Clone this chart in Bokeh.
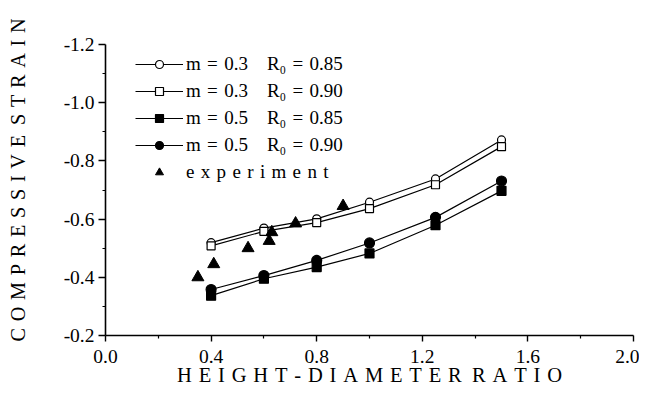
from bokeh.plotting import figure
from bokeh.models import Range1d, FixedTicker, PrintfTickFormatter, Legend, LegendItem
from bokeh.embed import file_html
from bokeh.resources import INLINE

# ---- data ----
x_model = [0.4, 0.6, 0.8, 1.0, 1.25, 1.5]
m03_r085 = [-0.519, -0.569, -0.601, -0.658, -0.738, -0.872]
m03_r090 = [-0.508, -0.558, -0.588, -0.636, -0.718, -0.849]
m05_r085 = [-0.337, -0.395, -0.435, -0.482, -0.579, -0.697]
m05_r090 = [-0.358, -0.406, -0.458, -0.518, -0.606, -0.731]
exp_x = [0.35, 0.41, 0.54, 0.62, 0.63, 0.72, 0.90]
exp_y = [-0.40, -0.445, -0.50, -0.525, -0.555, -0.585, -0.645]

x_ticks = [0.0, 0.4, 0.8, 1.2, 1.6, 2.0]
x_minor = [0.2, 0.6, 1.0, 1.4, 1.8]
y_ticks = [-1.2, -1.0, -0.8, -0.6, -0.4, -0.2]
y_minor = [-1.1, -0.9, -0.7, -0.5, -0.3]

NB = "\u00a0"
SP = "\u2004"   # letter spacing
WG = "\u2002"   # word gap


def spaced(words):
    return WG.join(SP.join(w) for w in words)


def leg(m, r):
    return "m" + SP + "=" + SP + m + "\u2003" + "R\u2080" + SP + "=" + SP + r


labels = [
    leg("0.3", "0.85"),
    leg("0.3", "0.90"),
    leg("0.5", "0.85"),
    leg("0.5", "0.90"),
    SP.join("experiment"),
]
x_title = spaced(["HEIGHT-DIAMETER", "RATIO"])
y_title = NB * 4 + spaced(["COMPRESSIVE", "STRAIN"])

FONT = "Liberation Serif"

p = figure(width=639, height=392, output_backend="svg", toolbar_location=None,
           x_range=Range1d(0.0, 2.0), y_range=Range1d(-0.2, -1.2),
           min_border_left=105, min_border_right=6, min_border_top=44, min_border_bottom=57)
p.outline_line_color = None
p.xgrid.visible = False
p.ygrid.visible = False
p.background_fill_color = "white"
p.border_fill_color = "white"

for ax, ticks, minor in ((p.xaxis[0], x_ticks, x_minor), (p.yaxis[0], y_ticks, y_minor)):
    ax.ticker = FixedTicker(ticks=ticks, minor_ticks=minor)
    ax.formatter = PrintfTickFormatter(format="%.1f")
    ax.axis_line_width = 1.6
    ax.axis_line_color = "black"
    ax.major_tick_line_color = "black"
    ax.minor_tick_line_color = "black"
    ax.major_tick_line_width = 1.4
    ax.minor_tick_line_width = 1.2
    ax.major_tick_in = 0
    ax.minor_tick_in = 0
    ax.major_label_text_font = FONT
    ax.major_label_text_font_size = "19.5px"
    ax.major_label_text_color = "black"
    ax.axis_label_text_font = FONT
    ax.axis_label_text_font_style = "normal"
    ax.axis_label_text_color = "black"

p.xaxis.axis_label_text_font_size = "20.5px"
p.yaxis.axis_label_text_font_size = "20.2px"
p.xaxis.major_tick_out = 6
p.xaxis.minor_tick_out = 3
p.yaxis.major_tick_out = 7
p.yaxis.minor_tick_out = 3
p.xaxis.major_label_standoff = 8
p.yaxis.major_label_standoff = 4
p.xaxis.axis_label = x_title
p.yaxis.axis_label = y_title
p.xaxis.axis_label_standoff = -2
p.yaxis.axis_label_standoff = 32

series = [
    (m03_r085, "circle", 8, "white"),
    (m03_r090, "square", 8, "white"),
    (m05_r085, "square", 9, "black"),
    (m05_r090, "circle", 10, "black"),
]
items = []
for (ys, marker, size, fill), lab in zip(series, labels[:4]):
    ln = p.line(x_model, ys, line_color="black", line_width=1.2)
    sc = p.scatter(x_model, ys, marker=marker, size=size, fill_color=fill,
                   line_color="black", line_width=1.2)
    items.append(LegendItem(label=lab, renderers=[ln, sc]))

tri = p.scatter(exp_x, exp_y, marker="triangle", size=12, fill_color="black", line_color="black")
items.append(LegendItem(label=labels[4], renderers=[tri]))

legend = Legend(items=items, location=(30, 152))
legend.label_text_font = FONT
legend.label_text_font_size = "19px"
legend.label_text_color = "black"
legend.glyph_width = 48
legend.glyph_height = 20
legend.label_height = 20
legend.label_standoff = 3
legend.spacing = 5
legend.padding = 0
legend.margin = 0
legend.border_line_color = None
legend.background_fill_alpha = 0
p.add_layout(legend, "center")

open("out.html", "w").write(file_html(p, INLINE))
